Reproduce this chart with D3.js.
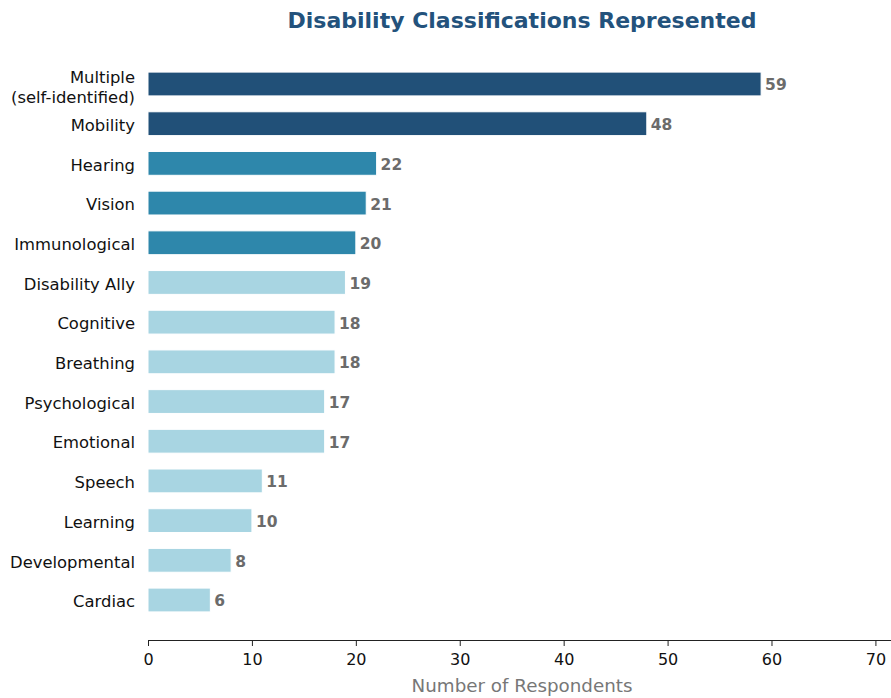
<!DOCTYPE html>
<html>
<head>
<meta charset="utf-8">
<script src="https://cdn.jsdelivr.net/npm/d3@7"></script>
<style>
  body { margin: 0; background: #fff; }
  svg { display: block; font-family: "DejaVu Sans", sans-serif; }
</style>
</head>
<body>
<svg id="chart" width="891" height="698"></svg>
<script>
// Survey data: disability classifications and respondent counts
const categories = [
  "Multiple\n(self-identified)", "Mobility", "Hearing", "Vision", "Immunological",
  "Disability Ally", "Cognitive", "Breathing", "Psychological", "Emotional",
  "Speech", "Learning", "Developmental", "Cardiac"
];
const counts = [59, 48, 22, 21, 20, 19, 18, 18, 17, 17, 11, 10, 8, 6];
// colour tier for each bar: 0 = top, 1 = middle, 2 = rest
const tiers = [0, 0, 1, 1, 1, 2, 2, 2, 2, 2, 2, 2, 2, 2];
const tierColors = ["#215078", "#2e87ab", "#a8d5e2"];
const xTicks = [0, 10, 20, 30, 40, 50, 60, 70];

const svg = d3.select("#chart");
const left = 148, right = 891, axisY = 640;

const x = d3.scaleLinear().domain([0, 71.5]).range([left, right]);
const step = (600 - 84) / (categories.length - 1);
const y = d3.scaleBand()
  .domain(categories)
  .range([84 - step / 2, 600 + step / 2])
  .paddingInner(0.4)
  .paddingOuter(0.2);

// Title
svg.append("text")
  .attr("x", 522)
  .attr("y", 28)
  .attr("text-anchor", "middle")
  .attr("font-size", 22)
  .attr("font-weight", "bold")
  .attr("fill", "#23527c")
  .text("Disability Classifications Represented");

// Bars
svg.append("g").selectAll("rect")
  .data(categories)
  .join("rect")
  .attr("x", x(0))
  .attr("y", d => y(d))
  .attr("width", (d, i) => x(counts[i]) - x(0))
  .attr("height", y.bandwidth())
  .attr("fill", (d, i) => tierColors[tiers[i]])
  .attr("stroke", "#fff")
  .attr("stroke-width", 1);

// Value labels
svg.append("g").selectAll("text")
  .data(categories)
  .join("text")
  .attr("x", (d, i) => x(counts[i]) + 4)
  .attr("y", d => y(d) + y.bandwidth() / 2 + 1)
  .attr("dy", "0.35em")
  .attr("font-size", 15.5)
  .attr("font-weight", "bold")
  .attr("fill", "#6b6b6b")
  .text((d, i) => counts[i]);

// Category labels (multi-line where needed)
const labels = svg.append("g").selectAll("text")
  .data(categories)
  .join("text")
  .attr("text-anchor", "end")
  .attr("font-size", 16.4)
  .attr("fill", "#111");
labels.each(function(d) {
  const lines = d.split("\n");
  const cy = y(d) + y.bandwidth() / 2 + (lines.length > 1 ? 3.5 : 1.5);
  const lh = 19.5;
  lines.forEach((ln, k) => {
    d3.select(this).append("tspan")
      .attr("x", 135)
      .attr("y", cy + (k - (lines.length - 1) / 2) * lh)
      .attr("dy", "0.35em")
      .text(ln);
  });
});

// Bottom axis
const xAxis = d3.axisBottom(x).tickValues(xTicks).tickSize(6).tickSizeOuter(0).tickPadding(8);
const gx = svg.append("g")
  .attr("transform", `translate(0,${axisY})`)
  .call(xAxis);
gx.select(".domain").attr("stroke", "#222").attr("stroke-width", 1.2);
gx.selectAll(".tick line").attr("stroke", "#222");
gx.selectAll(".tick text").attr("font-size", 16).attr("fill", "#111")
  .attr("font-family", "DejaVu Sans, sans-serif");

// Axis title
svg.append("text")
  .attr("x", 522)
  .attr("y", 692)
  .attr("text-anchor", "middle")
  .attr("font-size", 18.3)
  .attr("fill", "#777")
  .text("Number of Respondents");
</script>
</body>
</html>
